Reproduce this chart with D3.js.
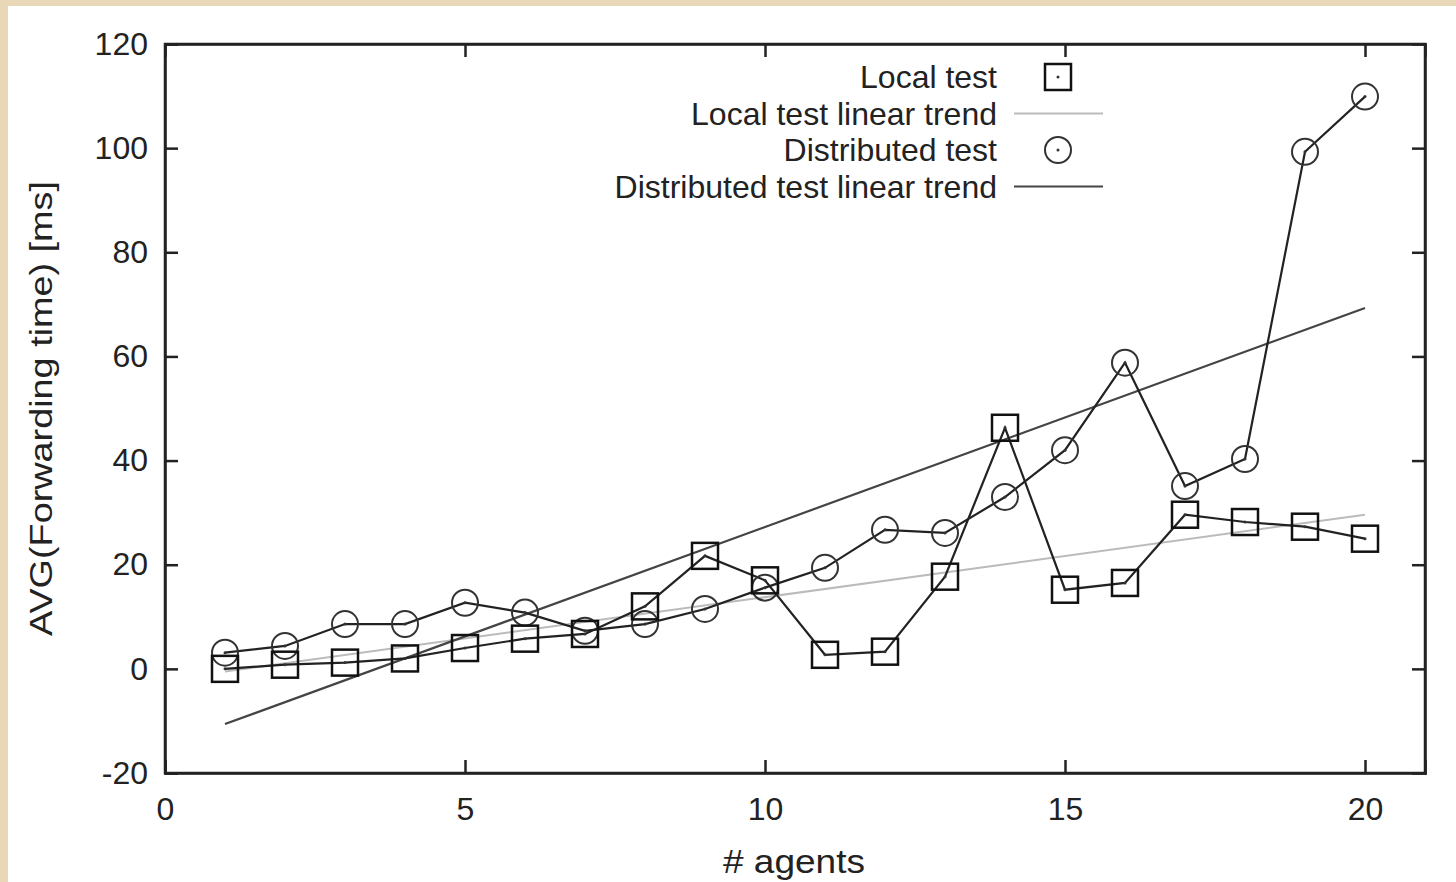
<!DOCTYPE html>
<html>
<head>
<meta charset="utf-8">
<script src="https://cdn.jsdelivr.net/npm/d3@7"></script>
<style>
  body { margin: 0; background: #e9d8b8; }
  #chart { position: absolute; left: 8px; top: 6px; width: 1448px; height: 876px; background: #fff; }
  text { font-family: "Liberation Sans", Arial, sans-serif; fill: #222; }
</style>
</head>
<body>
<div id="chart"></div>
<script>
/* AVG forwarding time vs number of agents */

const agents = d3.range(1, 21);
const localTest = [0, 0.8, 1.2, 2, 4, 5.8, 6.7, 12, 21.7, 17, 2.7, 3.3, 17.7, 46.3, 15.2, 16.5, 29.6, 28.2, 27.3, 25];
const distributedTest = [3.1, 4.4, 8.6, 8.6, 12.7, 10.8, 7.3, 8.6, 11.5, 15.6, 19.4, 26.7, 26.1, 33, 42, 58.8, 35.1, 40.3, 99.3, 109.9];
// trend lines, endpoints at x = 1 and x = 20
const trendX = [1, 20];
const localTrend = [-0.5, 29.6];
const distributedTrend = [-10.6, 69.3];
const xTicks = [0, 5, 10, 15, 20];
const yTicks = [-20, 0, 20, 40, 60, 80, 100, 120];

const width = 1448,
      height = 876,
      margin = ({ top: 38, right: 31, bottom: 109, left: 157 });

let svg = d3.select("#chart")
            .append("svg")
            .attr("width", width)
            .attr("height", height);

const x = d3.scaleLinear()
            .domain([0, 21])
            .range([margin.left, width - margin.right]);

const y = d3.scaleLinear()
            .domain([-20, 120])
            .range([height - margin.bottom, margin.top]);

const tickLen = 13;
const fmt = d => String(d);

// mirrored inward ticks on all four sides
const xAxis = g => g
    .attr("transform", `translate(0,${height - margin.bottom})`)
    .call(d3.axisBottom(x).tickValues(xTicks).tickFormat(fmt).tickSize(-tickLen).tickPadding(24));
const xAxisTop = g => g
    .attr("transform", `translate(0,${margin.top})`)
    .call(d3.axisTop(x).tickValues(xTicks.filter(d => d > 0)).tickSize(-tickLen).tickFormat(""));
const yAxis = g => g
    .attr("transform", `translate(${margin.left},0)`)
    .call(d3.axisLeft(y).tickValues(yTicks).tickFormat(fmt).tickSize(-tickLen).tickPadding(17));
const yAxisRight = g => g
    .attr("transform", `translate(${width - margin.right},0)`)
    .call(d3.axisRight(y).tickValues(yTicks.filter(d => d > -20 && d < 120)).tickSize(-tickLen).tickFormat(""));

for (let ax of [xAxis, xAxisTop, yAxis, yAxisRight]) {
    svg.append("g").call(ax)
       .call(g => g.selectAll("line").attr("stroke", "#222").attr("stroke-width", 2.5))
       .call(g => g.select(".domain").attr("stroke", "#222").attr("stroke-width", 2.5))
       .call(g => g.selectAll("text").attr("font-size", 32).attr("font-family", "Liberation Sans, Arial, sans-serif").attr("fill", "#222"));
}

// frame
svg.append("rect")
   .attr("x", x(0)).attr("y", y(120))
   .attr("width", x(21) - x(0)).attr("height", y(-20) - y(120))
   .attr("fill", "none").attr("stroke", "#222").attr("stroke-width", 2.5);

// axis titles
svg.append("text")
   .attr("transform", `translate(33,${(y(120) + y(-20)) / 2}) rotate(-90)`)
   .attr("text-anchor", "middle").attr("dy", "0.35em")
   .attr("font-size", 32)
   .attr("textLength", 455).attr("lengthAdjust", "spacingAndGlyphs")
   .text("AVG(Forwarding time) [ms]");

svg.append("text")
   .attr("x", 786).attr("y", height - 9)
   .attr("text-anchor", "middle")
   .attr("font-size", 34)
   .attr("textLength", 142).attr("lengthAdjust", "spacingAndGlyphs")
   .text("# agents");

const line = d3.line().x(d => x(d[0])).y(d => y(d[1]));

// trends
svg.append("path")
   .attr("d", line(trendX.map((d, i) => [d, localTrend[i]])))
   .attr("fill", "none").attr("stroke", "#bbb").attr("stroke-width", 2);
svg.append("path")
   .attr("d", line(trendX.map((d, i) => [d, distributedTrend[i]])))
   .attr("fill", "none").attr("stroke", "#444").attr("stroke-width", 2.2);

const localPts = agents.map((d, i) => [d, localTest[i]]);
const distPts = agents.map((d, i) => [d, distributedTest[i]]);

svg.append("path").attr("d", line(localPts))
   .attr("fill", "none").attr("stroke", "#222").attr("stroke-width", 2.2);
svg.append("path").attr("d", line(distPts))
   .attr("fill", "none").attr("stroke", "#222").attr("stroke-width", 2.2);

const sq = 26, r = 13;

function square(g, cx, cy) {
    g.append("rect").attr("x", cx - sq / 2).attr("y", cy - sq / 2)
     .attr("width", sq).attr("height", sq)
     .attr("fill", "none").attr("stroke", "#111").attr("stroke-width", 2.5);
    g.append("circle").attr("cx", cx).attr("cy", cy).attr("r", 1.5).attr("fill", "#333");
}
function ring(g, cx, cy) {
    g.append("circle").attr("cx", cx).attr("cy", cy).attr("r", r)
     .attr("fill", "none").attr("stroke", "#333").attr("stroke-width", 2);
    g.append("circle").attr("cx", cx).attr("cy", cy).attr("r", 1.5).attr("fill", "#333");
}

let marks = svg.append("g");
distPts.forEach(d => ring(marks, x(d[0]), y(d[1])));
localPts.forEach(d => square(marks, x(d[0]), y(d[1])));

// legend
const legendItems = ["Local test", "Local test linear trend", "Distributed test", "Distributed test linear trend"];
const lg = svg.append("g");
legendItems.forEach((t, i) => {
    const ly = 71 + i * 36.5;
    lg.append("text").attr("x", 989).attr("y", ly).attr("dy", "0.35em")
      .attr("text-anchor", "end").attr("font-size", 32).text(t);
    if (i === 0) square(lg, 1050, ly);
    if (i === 2) ring(lg, 1050, ly);
    if (i === 1 || i === 3) {
        lg.append("line").attr("x1", 1006).attr("x2", 1095).attr("y1", ly).attr("y2", ly)
          .attr("stroke", i === 1 ? "#bbb" : "#444").attr("stroke-width", 2);
    }
});
</script>
</body>
</html>
